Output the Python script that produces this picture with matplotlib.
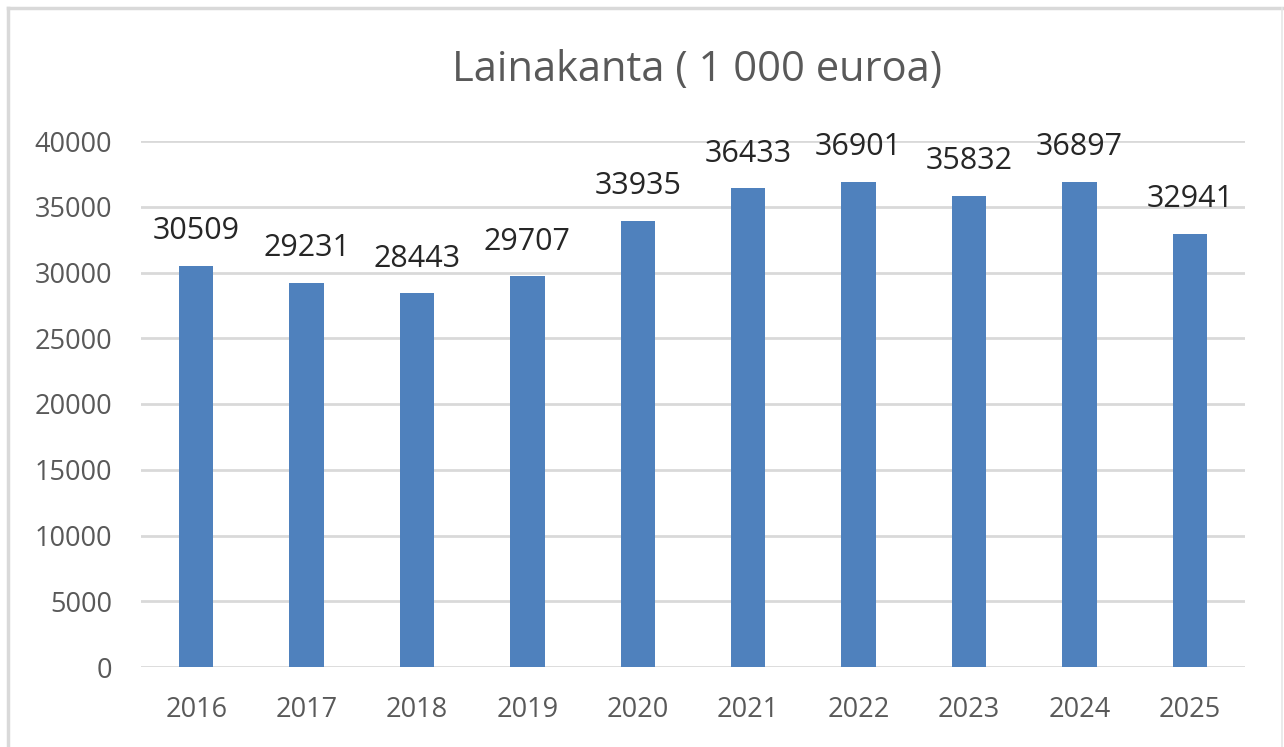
import matplotlib.pyplot as plt
from matplotlib.lines import Line2D

years = ['2016', '2017', '2018', '2019', '2020', '2021', '2022', '2023', '2024', '2025']
lainakanta = [30509, 29231, 28443, 29707, 33935, 36433, 36901, 35832, 36897, 32941]
yticks = [0, 5000, 10000, 15000, 20000, 25000, 30000, 35000, 40000]

plt.rcParams['font.family'] = ['Open Sans', 'DejaVu Sans']
text_color = '#595959'

W, H = 1284, 747
fig = plt.figure(figsize=(W / 100, H / 100), dpi=100)
ax = fig.add_axes([141 / W, 80 / H, 1104 / W, 526 / H])

x = range(len(years))
ax.bar(x, lainakanta, width=0.31, color='#4f81bd', zorder=3)

# arvot pylväiden päälle
for xi, v in zip(x, lainakanta):
    ax.annotate(str(v), (xi, v), xytext=(0, 19), textcoords='offset points',
                ha='center', va='baseline', fontsize=22, color='#262626')

ax.set_xlim(-0.5, len(years) - 0.5)
ax.set_ylim(0, 40000)
ax.set_yticks(yticks)
ax.set_yticklabels([str(t) for t in yticks])
ax.set_xticks(list(x))
ax.set_xticklabels(years)
ax.tick_params(axis='both', length=0, labelsize=19.5, colors=text_color)
ax.tick_params(axis='y', pad=21)
ax.tick_params(axis='x', pad=21)
ax.grid(axis='y', color='#d9d9d9', linewidth=2, zorder=0)
for s in ax.spines.values():
    s.set_visible(False)

fig.text(697 / W, 1 - 81 / H, 'Lainakanta ( 1 000 euroa)', ha='center', va='baseline',
         fontsize=30, color=text_color)

# kehys (alareuna rajautuu kuvan ulkopuolelle)
border = '#d9d9d9'
fig.lines.append(Line2D([8 / W, 8 / W], [0, 1 - 8 / H], transform=fig.transFigure,
                        color=border, linewidth=2.5))
fig.lines.append(Line2D([8 / W, 1282 / W], [1 - 8 / H, 1 - 8 / H], transform=fig.transFigure,
                        color=border, linewidth=2.5))
fig.lines.append(Line2D([1282 / W, 1282 / W], [0, 1 - 8 / H], transform=fig.transFigure,
                        color='#e6e6e6', linewidth=1.2))

fig.savefig('out.png', dpi=100)
